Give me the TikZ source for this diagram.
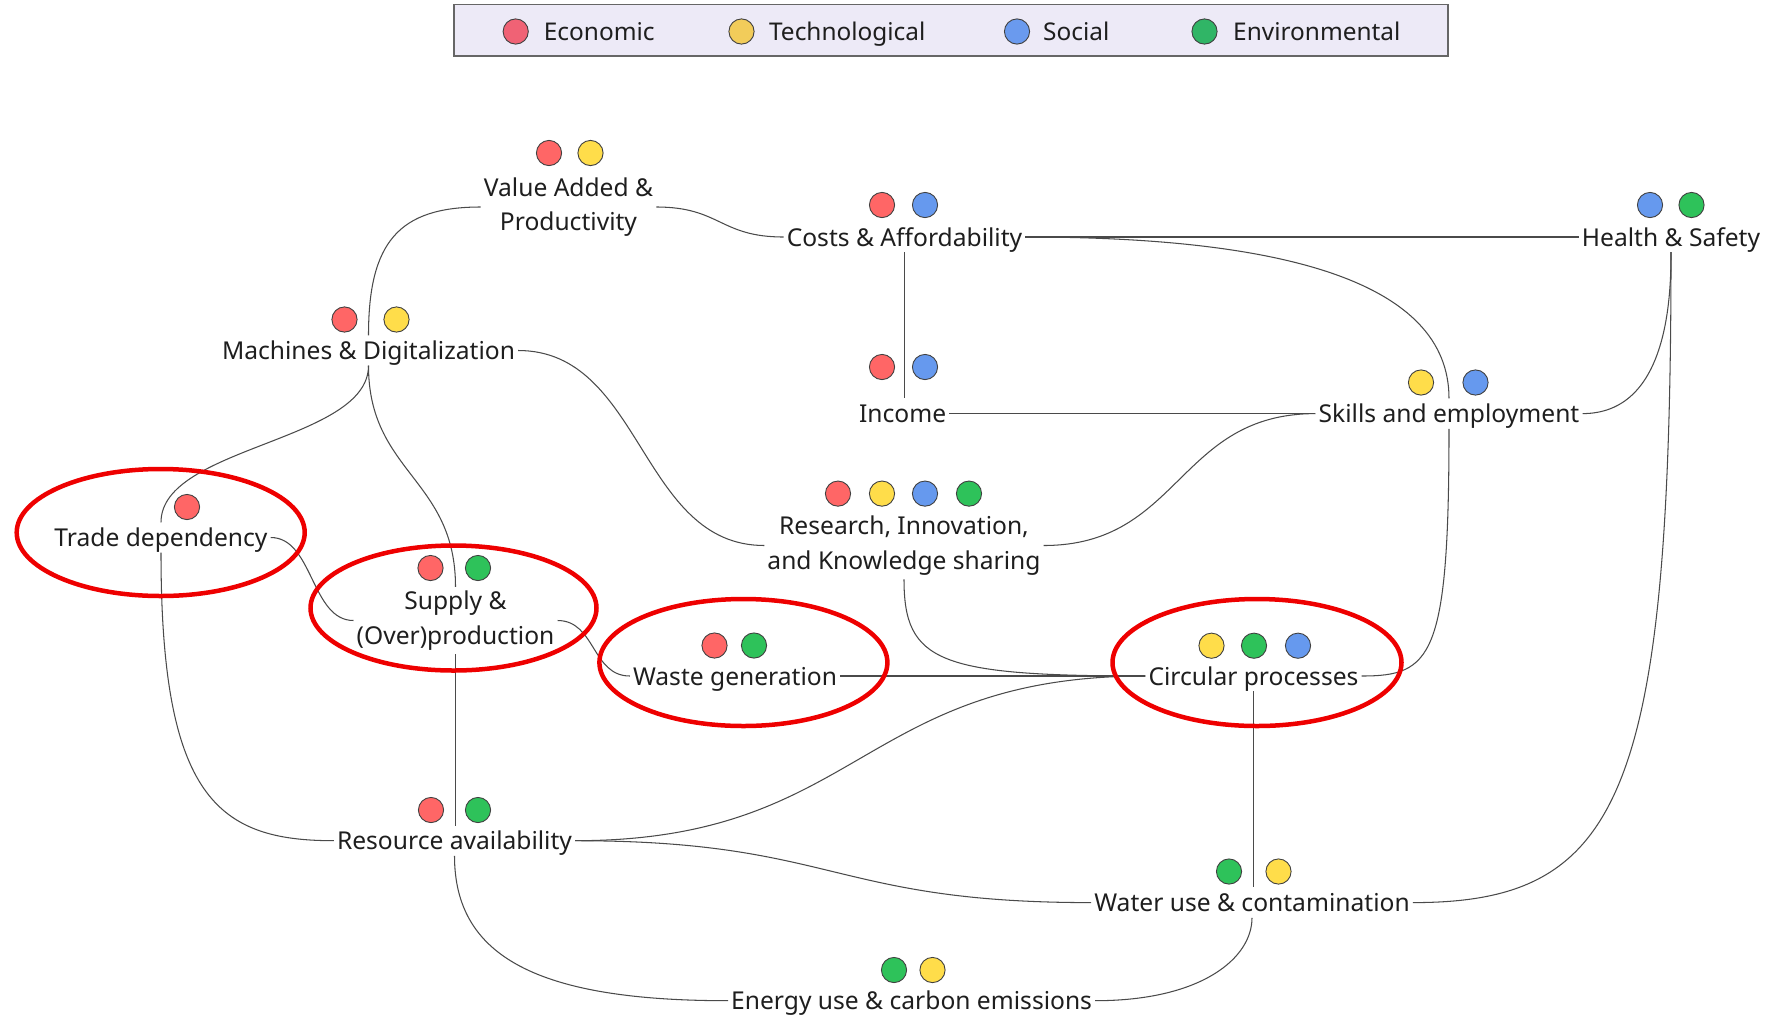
\documentclass[tikz,border=0pt]{standalone}
\usepackage{fontspec}
\setmainfont{Noto Sans}
\usetikzlibrary{calc}

\definecolor{txt}{HTML}{1E1E1E}
\definecolor{wire}{HTML}{4A4A4A}
\definecolor{ring}{HTML}{EE0000}
\definecolor{legfill}{HTML}{EDEAF7}
\definecolor{legline}{HTML}{666666}
% category colours in the diagram
\definecolor{econ}{HTML}{FF6666}
\definecolor{tech}{HTML}{FFDD4A}
\definecolor{soc}{HTML}{6699EE}
\definecolor{env}{HTML}{2EC25A}
% category colours in the legend
\definecolor{lecon}{HTML}{F06275}
\definecolor{ltech}{HTML}{F2CC5A}
\definecolor{lsoc}{HTML}{6A9AEE}
\definecolor{lenv}{HTML}{30B566}

\newcommand{\catdot}[3]{\draw[line width=0.9pt, draw=black!75, fill=#3] (#1,#2) circle[radius=12.6];}

\begin{document}
\begin{tikzpicture}[x=1pt, y=-1pt,
  topic/.style={font=\fontsize{24.6}{34.5}\selectfont, text=txt,
    inner xsep=3pt, inner ysep=4pt, text height=20pt, text depth=2pt},
  topic2/.style={font=\fontsize{24.6}{34.5}\selectfont, text=txt,
    inner xsep=3pt, inner ysep=4pt, align=center},
  link/.style={draw=wire, line width=1.05pt},
  focus/.style={draw=ring, line width=4.5pt},
  legtext/.style={font=\fontsize{24.4}{30}\selectfont, text=txt, anchor=base west, inner sep=0pt}
]
\useasboundingbox (0,0) rectangle (1767,1018);

% legend
\draw[fill=legfill, draw=legline, line width=1.8pt] (454,4.5) rectangle (1448,56);
\catdot{515.7}{31.5}{lecon}
\node[legtext] (lgecon) at (543.7,40.5) {Economic};
\catdot{741.5}{31.5}{ltech}
\node[legtext] (lgtech) at (768.9,40.5) {Technological};
\catdot{1017}{31.5}{lsoc}
\node[legtext] (lgsoc) at (1043,40.5) {Social};
\catdot{1204.5}{31.5}{lenv}
\node[legtext] (lgenv) at (1233,40.5) {Environmental};

% topics
\node[topic2] (va)       at (568.5,207)  {Value Added \&\\Productivity};
\node[topic]  (costs)    at (904.5,237)  {Costs \& Affordability};
\node[topic]  (health)   at (1671,237)   {Health \& Safety};
\node[topic]  (mach)     at (368.5,350.5){Machines \& Digitalization};
\node[topic]  (income)   at (902.6,413.6){Income};
\node[topic]  (skills)   at (1449,413.6) {Skills and employment};
\node[topic2] (research) at (904,545.5)  {Research, Innovation,\\and Knowledge sharing};
\node[topic]  (trade)    at (161,537.5)  {Trade dependency};
\node[topic2] (supply)   at (455.5,620.5){Supply \&\\(Over)production};
\node[topic]  (waste)    at (735,676)    {Waste generation};
\node[topic]  (circ)     at (1253.5,676) {Circular processes};
\node[topic]  (res)      at (454.5,840.7){Resource availability};
\node[topic]  (water)    at (1252,902.6) {Water use \& contamination};
\node[topic]  (energy)   at (911.6,1000.7){Energy use \& carbon emissions};

% category markers
\catdot{549}{153}{econ}    \catdot{590.5}{153}{tech}
\catdot{882}{205}{econ}    \catdot{925}{205}{soc}
\catdot{1650}{205}{soc}    \catdot{1691.5}{205}{env}
\catdot{344.5}{319.5}{econ} \catdot{396.5}{319.5}{tech}
\catdot{882}{367}{econ}    \catdot{925}{367}{soc}
\catdot{1421}{382.5}{tech} \catdot{1475.5}{382.5}{soc}
\catdot{838}{493.6}{econ}  \catdot{882}{493.6}{tech} \catdot{925}{493.6}{soc} \catdot{969}{493.6}{env}
\catdot{187}{507}{econ}
\catdot{430.5}{568}{econ}  \catdot{478}{568}{env}
\catdot{714.5}{645.5}{econ} \catdot{754}{645.5}{env}
\catdot{1211.5}{645.7}{tech} \catdot{1254}{645.7}{env} \catdot{1298}{645.7}{soc}
\catdot{431}{810}{econ}    \catdot{478}{810}{env}
\catdot{1229}{871.5}{env}  \catdot{1278.5}{871.5}{tech}
\catdot{894}{970}{env}     \catdot{932.5}{970}{tech}

% connections
\draw[link] (va.west) .. controls +(-82,0) and +(0,-93) .. (mach.north);
\draw[link] (va.east) .. controls +(64,0) and +(-64,0) .. (costs.west);
\draw[link] (costs.east) -- (health.west);
\draw[link] (costs.east) .. controls +(257,0) and +(0,-117) .. (skills.north);
\draw[link] (costs.south) -- (costs.south |- income.north);
\draw[link] (income.east) -- (skills.west);
\draw[link] (skills.east) .. controls +(85,0) and +(0,46) .. (health.south);
\draw[link] (health.south) .. controls +(0,546) and +(207,0) .. (water.east);
\draw[link] (skills.west) .. controls +(-138,0) and +(137,0) .. (research.east);
\draw[link] (skills.south) .. controls +(0,229) and +(70,0) .. (circ.east);
\draw[link] (mach.east) .. controls +(124.5,0) and +(-124.5,0) .. (research.west);
\draw[link] (mach.south) .. controls +(0,76) and +(0,-76) .. (trade.north);
\draw[link] (mach.south) .. controls +(0,107) and +(0,-108) .. (supply.north);
\draw[link] (trade.east) .. controls +(42.5,0) and +(-42.5,0) .. (supply.west);
\draw[link] (trade.south) .. controls +(0,245) and +(-116,0) .. (res.west);
\draw[link] (supply.east) .. controls +(38,0) and +(-38,0) .. (waste.west);
\draw[link] (supply.south) -- (supply.south |- res.north);
\draw[link] (waste.east) -- (circ.west);
\draw[link] (research.south) .. controls +(0,83) and +(-207,0) .. (circ.west);
\draw[link] (res.east) .. controls +(285.5,0) and +(-285.5,0) .. (circ.west);
\draw[link] (res.east) .. controls +(260,0) and +(-260,0) .. (water.west);
\draw[link] (res.south) .. controls +(0,101) and +(-190,0) .. (energy.west);
\draw[link] (energy.east) .. controls +(107,0) and +(0,40) .. (water.south);
\draw[link] (circ.south) -- (circ.south |- water.north);

% highlighted topics
\draw[focus] (160.7,532.5) ellipse[x radius=144, y radius=63.5];
\draw[focus] (453.5,608) ellipse[x radius=143, y radius=62.5];
\draw[focus] (743.4,662.5) ellipse[x radius=144, y radius=63.5];
\draw[focus] (1257,662.5) ellipse[x radius=144.5, y radius=63.5];
\end{tikzpicture}
\end{document}
